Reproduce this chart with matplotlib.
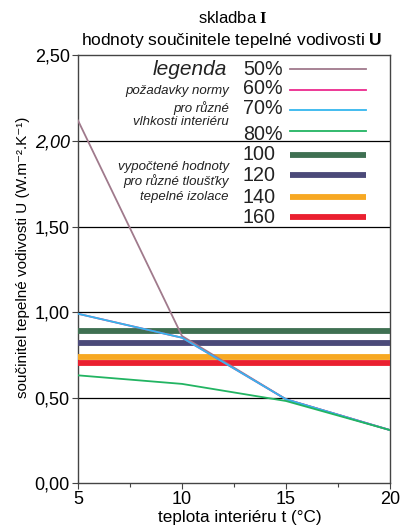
import numpy as np
import matplotlib
matplotlib.use("Agg")
from matplotlib import pyplot as plt

plt.rcParams['font.family'] = ['Liberation Sans', 'DejaVu Sans']
plt.rcParams['mathtext.fontset'] = 'custom'
plt.rcParams['mathtext.rm'] = 'Liberation Serif:bold'
plt.rcParams['mathtext.bf'] = 'Liberation Sans:bold'

# teplota interieru (°C)
t = [5, 10, 15, 20]

# pozadavky normy pro ruzne vlhkosti interieru
vlhkost = ['50%', '60%', '70%', '80%']
u_50 = [2.12, 0.86, 0.49, 0.31]
u_60 = [0.99, 0.85, 0.49, 0.31]
u_70 = [0.99, 0.85, 0.49, 0.31]
u_80 = [0.63, 0.58, 0.48, 0.31]
norma = [u_50, u_60, u_70, u_80]
barvy_norma = ['#a07a8c', '#ec2a8e', '#35b6ee', '#22b462']

# vypoctene hodnoty pro ruzne tloustky izolace (mm)
tloustka = ['100', '120', '140', '160']
u_izolace = [0.89, 0.82, 0.735, 0.70]
barvy_izolace = ['#3f7052', '#4b4a79', '#f7a823', '#ea2030']

fig = plt.figure(figsize=(4, 5.28), dpi=100)
ax = fig.add_axes([0.195, 0.085, 0.78, 0.81])

# vodorovne cary - vypoctene hodnoty
for u, c in zip(u_izolace, barvy_izolace):
    ax.plot([t[0], t[-1]], [u, u], color=c, lw=4.2, solid_capstyle='butt', zorder=3)

# pozadavky normy
for data, c in zip(norma, barvy_norma):
    ax.plot(t, data, color=c, lw=1.3, zorder=4)

ax.set_xlim(5, 20)
ax.set_ylim(0, 2.5)
ax.set_xticks([5, 10, 15, 20])
ax.set_xticks([7.5, 12.5, 17.5], minor=True)
ax.set_yticks([0, 0.5, 1.0, 1.5, 2.0, 2.5])
ax.set_yticklabels(['0,00', '0,50', '1,00', '1,50', '2,00', '2,50'])
ax.get_yticklabels()[4].set_style('italic')
ax.tick_params(labelsize=13, length=4, width=0.8, color='#444444', pad=2)
ax.tick_params(which='minor', length=3, width=0.8, color='#444444')
for y in [0.5, 1.0, 1.5, 2.0]:
    ax.axhline(y, color='black', lw=0.9, zorder=1)
for s in ax.spines.values():
    s.set_color('#444444')
    s.set_linewidth(1.0)

ax.set_ylabel('součinitel tepelné vodivosti U (W.m⁻².K⁻¹)', fontsize=11, labelpad=4)
ax.yaxis.set_label_coords(-0.155, 0.527)
ax.set_xlabel('teplota interiéru t (°C)', fontsize=12.3)
ax.xaxis.set_label_coords(0.52, -0.064)

fig.text(0.583, 0.966, r'skladba $\mathrm{I}$', ha='center', va='center', fontsize=12)
fig.text(0.578, 0.924, r'hodnoty součinitele tepelné vodivosti $\mathbf{U}$',
         ha='center', va='center', fontsize=12.5)

# legenda
x_txt = 12.93
x_line = [15.19, 18.85]
y_norma = [2.42, 2.30, 2.18, 2.06]
y_txt_norma = [2.415, 2.305, 2.19, 2.04]
y_izol = [1.92, 1.80, 1.67, 1.555]
ax.text(12.15, 2.415, 'legenda', ha='right', va='center', fontsize=15, style='italic', color='#222222')
for lab, y, yt, c in zip(vlhkost, y_norma, y_txt_norma, barvy_norma):
    ax.text(x_txt, yt, lab, ha='left', va='center', fontsize=14.2, color='#222222')
    ax.plot(x_line, [y, y], color=c, lw=1.3)
for lab, y, c in zip(tloustka, y_izol, barvy_izolace):
    ax.text(x_txt, y, lab, ha='left', va='center', fontsize=14.2, color='#222222')
    ax.plot(x_line, [y, y], color=c, lw=4.2, solid_capstyle='butt')

popis_norma = ['požadavky normy', 'pro různé', 'vlhkosti interiéru']
for s, y in zip(popis_norma, [2.29, 2.19, 2.11]):
    ax.text(12.25, y, s, ha='right', va='center', fontsize=9.5, style='italic', color='#222222')
popis_izol = ['vypočtené hodnoty', 'pro různé tloušťky', 'tepelné izolace']
for s, y in zip(popis_izol, [1.85, 1.765, 1.67]):
    ax.text(12.25, y, s, ha='right', va='center', fontsize=9.5, style='italic', color='#222222')

fig.savefig('out.png', dpi=100)
